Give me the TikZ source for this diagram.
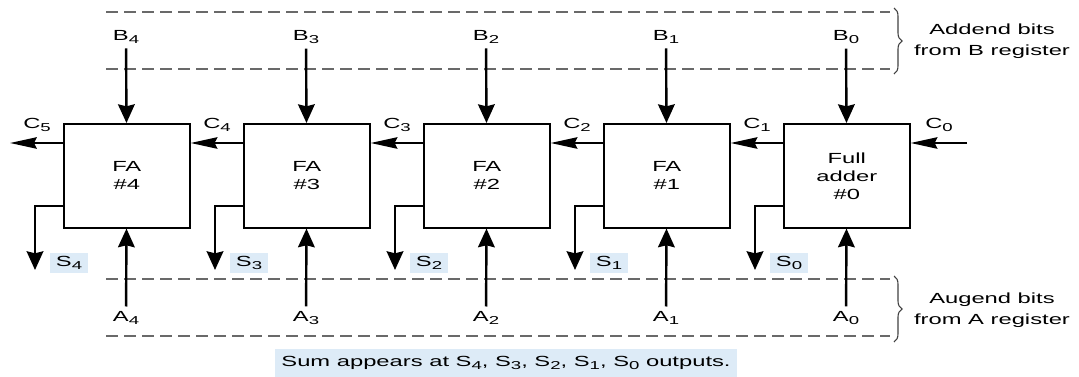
\documentclass[tikz,border=0pt]{standalone}
\usepackage{fontspec}
\setmainfont{Liberation Sans}[FakeStretch=1.62]
\usetikzlibrary{arrows.meta,decorations.pathreplacing}
\definecolor{surligne}{RGB}{221,235,247}
\definecolor{pointille}{RGB}{105,105,105}
\newcommand{\indice}[1]{\raisebox{-0.45ex}{\fontsize{8.6}{8.6}\selectfont #1}}

\begin{document}
\begin{tikzpicture}[x=0.75pt,y=-0.75pt,font=\fontsize{11}{13.5}\selectfont]
\tikzstyle{boite} = [draw,line width=1.2pt,minimum width=94.5pt,minimum height=78pt,align=center,inner sep=0pt] %additionneur
\tikzstyle{flecheV} = [line width=1.8pt,-{Stealth[length=14pt,width=12.5pt,inset=1.5pt]}]
\tikzstyle{flecheH} = [line width=1.8pt,-{Stealth[length=20pt,width=8.5pt,inset=2pt]}]
\tikzstyle{pointilles} = [pointille,line width=0.8pt,dash pattern=on 9pt off 4.5pt]
\tikzstyle{accolade} = [black!75,line width=0.8pt,decorate,decoration={brace,amplitude=6pt}]
\tikzstyle{somme} = [fill=surligne,inner xsep=4.5pt,inner ysep=2pt] %fond bleu clair
\useasboundingbox (0,0) rectangle (1079,377);

%les registres
\draw[pointilles] (106,12)--(890,12);
\draw[pointilles] (106,69)--(890,69);
\draw[pointilles] (106,279)--(890,279);
\draw[pointilles] (106,336)--(890,336);
\draw[accolade] (894,8)--(894,74);
\draw[accolade] (894,276)--(894,342);
\node[align=center,font=\fontsize{11}{16}\selectfont](regB) at (992,41){Addend bits\\from B register};
\node[align=center,font=\fontsize{11}{16}\selectfont](regA) at (992,310){Augend bits\\from A register};

%les additionneurs
\node[boite,anchor=north west](FA4) at (63,123){FA\\\#4};
\node[boite,anchor=north west](FA3) at (243,123){FA\\\#3};
\node[boite,anchor=north west](FA2) at (423,123){FA\\\#2};
\node[boite,anchor=north west](FA1) at (603,123){FA\\\#1};
\node[boite,anchor=north west](FA0) at (783,123){Full\\adder\\\#0};

%bits B et A
\node(B4) at (126,37){B\indice{4}};
\node(B3) at (306,37){B\indice{3}};
\node(B2) at (486,37){B\indice{2}};
\node(B1) at (666,37){B\indice{1}};
\node(B0) at (846,37){B\indice{0}};
\node(A4) at (126,318){A\indice{4}};
\node(A3) at (306,318){A\indice{3}};
\node(A2) at (486,318){A\indice{2}};
\node(A1) at (666,318){A\indice{1}};
\node(A0) at (846,318){A\indice{0}};

\draw[flecheV] (B4)--(FA4);
\draw[flecheV] (B3)--(FA3);
\draw[flecheV] (B2)--(FA2);
\draw[flecheV] (B1)--(FA1);
\draw[flecheV] (B0)--(FA0);
\draw[flecheV] (A4)--(FA4);
\draw[flecheV] (A3)--(FA3);
\draw[flecheV] (A2)--(FA2);
\draw[flecheV] (A1)--(FA1);
\draw[flecheV] (A0)--(FA0);

%retenues
\node(C5) at (37,125){C\indice{5}};
\node(C4) at (217,125){C\indice{4}};
\node(C3) at (397,125){C\indice{3}};
\node(C2) at (577,125){C\indice{2}};
\node(C1) at (757,125){C\indice{1}};
\node(C0) at (939,125){C\indice{0}};
\coordinate(C5bout) at (10,143);
\coordinate(C0bout) at (967,143);
\draw[flecheH] ([yshift=-15pt]FA4.north west)--(C5bout);
\draw[flecheH] ([yshift=-15pt]FA3.north west)--([yshift=-15pt]FA4.north east);
\draw[flecheH] ([yshift=-15pt]FA2.north west)--([yshift=-15pt]FA3.north east);
\draw[flecheH] ([yshift=-15pt]FA1.north west)--([yshift=-15pt]FA2.north east);
\draw[flecheH] ([yshift=-15pt]FA0.north west)--([yshift=-15pt]FA1.north east);
\draw[flecheH] (C0bout)--([yshift=-15pt]FA0.north east);

%sorties somme
\coordinate(S4bout) at (35,270);
\coordinate(S3bout) at (215,270);
\coordinate(S2bout) at (395,270);
\coordinate(S1bout) at (575,270);
\coordinate(S0bout) at (755,270);
\draw[flecheV] ([yshift=17pt]FA4.south west)-|(S4bout);
\draw[flecheV] ([yshift=17pt]FA3.south west)-|(S3bout);
\draw[flecheV] ([yshift=17pt]FA2.south west)-|(S2bout);
\draw[flecheV] ([yshift=17pt]FA1.south west)-|(S1bout);
\draw[flecheV] ([yshift=17pt]FA0.south west)-|(S0bout);
\node[somme](S4) at (69,263){S\indice{4}};
\node[somme](S3) at (249,263){S\indice{3}};
\node[somme](S2) at (429,263){S\indice{2}};
\node[somme](S1) at (609,263){S\indice{1}};
\node[somme](S0) at (789,263){S\indice{0}};

\node[somme,inner ysep=5pt](legende) at (506,363){Sum appears at S\indice{4}, S\indice{3}, S\indice{2}, S\indice{1}, S\indice{0} outputs.};
\end{tikzpicture}
\end{document}
